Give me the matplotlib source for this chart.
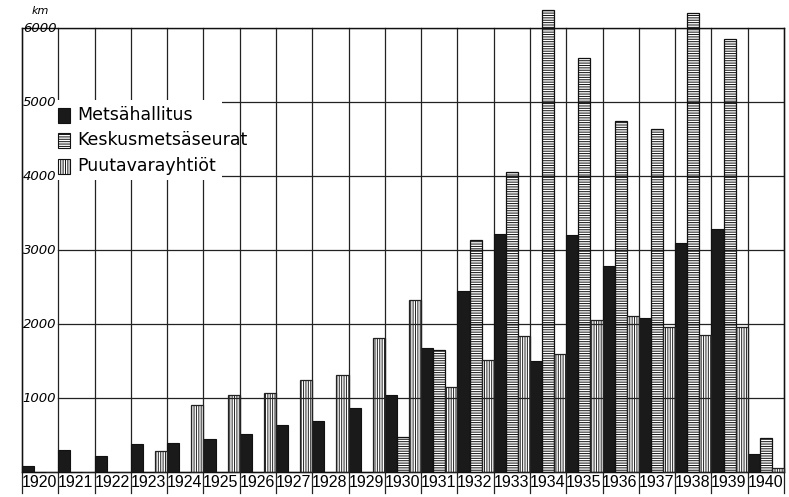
import matplotlib
matplotlib.use("Agg")
import matplotlib.pyplot as plt
from matplotlib import font_manager
from matplotlib.patches import Rectangle
from matplotlib.transforms import blended_transform_factory

# ----- data (km per year) -----
years = [1920, 1921, 1922, 1923, 1924, 1925, 1926, 1927, 1928, 1929, 1930,
         1931, 1932, 1933, 1934, 1935, 1936, 1937, 1938, 1939, 1940]
metsahallitus = [75, 300, 215, 385, 395, 445, 510, 640, 690, 860, 1040,
                 1680, 2450, 3220, 1500, 3200, 2780, 2080, 3100, 3280, 240]
keskusmetsaseurat = [0, 0, 0, 0, 0, 0, 0, 0, 0, 0, 470,
                     1650, 3130, 4050, 6240, 5600, 4740, 4640, 6200, 5850, 465]
puutavarayhtiot = [0, 0, 0, 290, 905, 1045, 1070, 1240, 1310, 1810, 2320,
                   1150, 1520, 1840, 1590, 2060, 2110, 1965, 1850, 1965, 50]
series_names = ["Metsähallitus", "Keskusmetsäseurat", "Puutavarayhtiöt"]
y_ticks = [1000, 2000, 3000, 4000, 5000, 6000]


def pick_font(names, default="DejaVu Sans"):
    for n in names:
        try:
            font_manager.findfont(n, fallback_to_default=False)
            return n
        except Exception:
            pass
    return default


narrow = pick_font(["Liberation Sans Narrow", "Liberation Sans"])
year_size = 11.5 if narrow != "DejaVu Sans" else 10.5

W, H = 789, 497
fig = plt.figure(figsize=(W / 100, H / 100), dpi=100)
fig.patch.set_facecolor("white")


def fx(px):
    return px / W


def fy(py):
    return 1 - py / H


# axes: 0 km at y=472 px, 6000 km at y=28 px
ax = fig.add_axes([fx(22), fy(472), (784 - 22) / W, (472 - 28) / H])
n = len(years)
ax.set_xlim(0, n)
ax.set_ylim(0, 6000)
ax.set_xticks([])
ax.set_yticks([])
for s in ax.spines.values():
    s.set_linewidth(1.0)
    s.set_color("#111111")

lc = "#222222"
# horizontal grid (not in the first column, labels sit there)
for v in y_ticks:
    ax.plot([1, n], [v, v], color=lc, lw=0.9, zorder=1)
# vertical column lines, running down through the year row
trans = blended_transform_factory(ax.transData, ax.transAxes)
for i in range(n + 1):
    ax.plot([i, i], [-0.047, 1.0], color=lc, lw=0.9, transform=trans,
            clip_on=False, zorder=1)

w = 1 / 3
xs = list(range(n))
plt.rcParams["hatch.linewidth"] = 0.7
ax.bar([x + 0 * w for x in xs], metsahallitus, width=w, align="edge",
       color="#1a1a1a", edgecolor="#111111", lw=0.8, zorder=3, clip_on=False)
ax.bar([x + 1 * w for x in xs], keskusmetsaseurat, width=w, align="edge",
       facecolor="none", edgecolor="#111111", hatch="-" * 7, lw=0.9,
       zorder=3, clip_on=False)
ax.bar([x + 2 * w for x in xs], puutavarayhtiot, width=w, align="edge",
       facecolor="none", edgecolor="#222222", hatch="|" * 7, lw=0.9,
       zorder=3, clip_on=False)

# y labels inside the first column
for v in y_ticks:
    ax.text(0.02, v, str(v), fontsize=9.5, style="italic", ha="left",
            va="center", zorder=4)
fig.text(fx(32), fy(11), "km", fontsize=8, style="italic", ha="left",
         va="center")

# year labels
for i, yr in enumerate(years):
    ax.text(i + 0.48, -0.024, str(yr), transform=trans, ha="center",
            va="center", fontsize=year_size, family=narrow)

# legend drawn by hand on a white patch
fig.patches.append(Rectangle((fx(57), fy(180)), (222 - 57) / W, 80 / H,
                             transform=fig.transFigure, facecolor="white",
                             edgecolor="none", zorder=5))
rows = [115, 140, 166]
styles = [dict(facecolor="#1a1a1a", hatch=None),
          dict(facecolor="white", hatch="-" * 7),
          dict(facecolor="white", hatch="|" * 7)]
for name, yc, st in zip(series_names, rows, styles):
    fig.patches.append(Rectangle((fx(58), fy(yc + 8)), 12 / W, 15 / H,
                                 transform=fig.transFigure,
                                 edgecolor="#111111", lw=0.8, zorder=6, **st))
    fig.text(fx(77), fy(yc), name, fontsize=12.5, ha="left", va="center",
             zorder=7)

fig.savefig("out.png", dpi=100, facecolor="white")
